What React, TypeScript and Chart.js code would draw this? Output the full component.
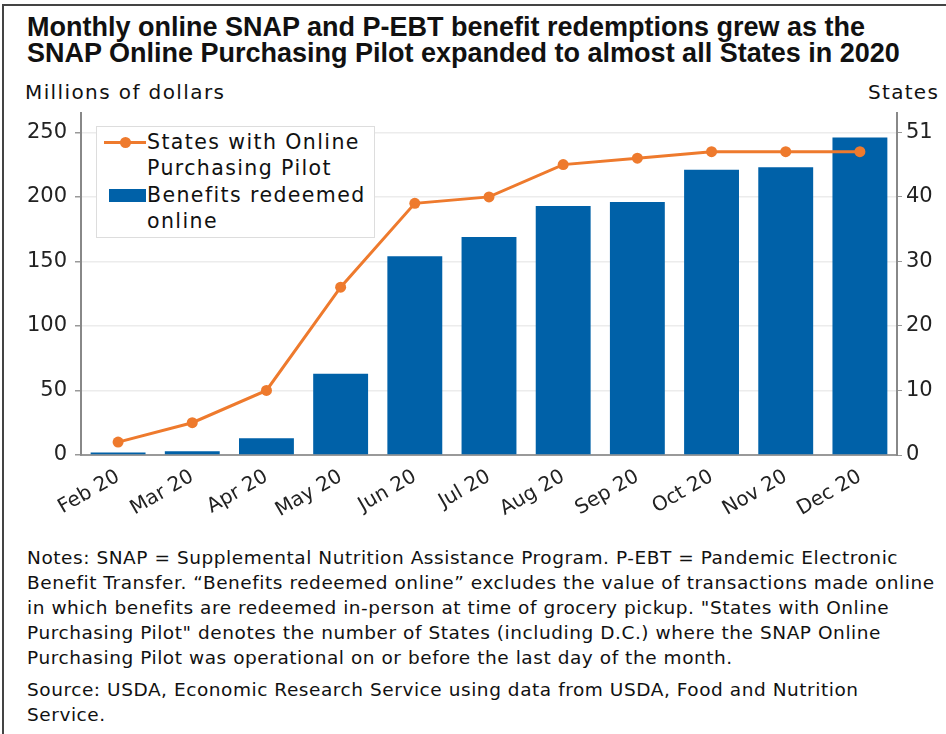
import React, { useEffect, useRef } from "react";
import { Chart, registerables } from "chart.js";

Chart.register(...registerables);

const months = ["Feb 20", "Mar 20", "Apr 20", "May 20", "Jun 20", "Jul 20", "Aug 20", "Sep 20", "Oct 20", "Nov 20", "Dec 20"];
const benefitsRedeemed = [2, 3, 13, 63, 154, 169, 193, 196, 221, 223, 246];
const statesWithPilot = [2, 5, 10, 26, 39, 40, 45, 46, 47, 47, 47];
const leftTicks = [0, 50, 100, 150, 200, 250];
const rightTicks = [0, 10, 20, 30, 40, 50];
const rightTickLabels = ["0", "10", "20", "30", "40", "51"];

const titleLines = [
  "Monthly online SNAP and P-EBT benefit redemptions grew as the",
  "SNAP Online Purchasing Pilot expanded to almost all States in 2020",
];
const noteLines = [
  "Notes: SNAP = Supplemental Nutrition Assistance Program. P-EBT = Pandemic Electronic",
  "Benefit Transfer. \u201cBenefits redeemed online\u201d excludes the value of transactions made online",
  "in which benefits are redeemed in-person at time of grocery pickup. \"States with Online",
  "Purchasing Pilot\" denotes the number of States (including D.C.) where the SNAP Online",
  "Purchasing Pilot was operational on or before the last day of the month.",
];
const sourceLines = [
  "Source: USDA, Economic Research Service using data from USDA, Food and Nutrition",
  "Service.",
];

const BAR = "#0061A8";
const LINE = "#EE7A2D";
const TITLE_FONT = "'Liberation Sans', Arial, sans-serif";
const FONT = "'DejaVu Sans', Verdana, sans-serif";

export default function App() {
  const ref = useRef<HTMLCanvasElement | null>(null);

  useEffect(() => {
    if (!ref.current) return;
    const noPad = (s: any) => {
      s.paddingTop = 0;
      s.paddingBottom = 0;
    };
    const chart = new Chart(ref.current, {
      data: {
        labels: months,
        datasets: [
          {
            type: "line",
            label: "States with Online Purchasing Pilot",
            data: statesWithPilot,
            yAxisID: "y2",
            borderColor: LINE,
            backgroundColor: LINE,
            borderWidth: 3,
            pointRadius: 5.5,
            pointBackgroundColor: LINE,
            pointBorderWidth: 0,
            tension: 0,
            order: 0,
          },
          {
            type: "bar",
            label: "Benefits redeemed online",
            data: benefitsRedeemed,
            yAxisID: "y",
            backgroundColor: BAR,
            barPercentage: 0.74,
            categoryPercentage: 1,
            order: 1,
          },
        ],
      },
      options: {
        animation: false,
        responsive: false,
        maintainAspectRatio: false,
        layout: { padding: { top: 13, left: 0, right: 0, bottom: 0 } },
        plugins: { legend: { display: false }, tooltip: { enabled: false } },
        scales: {
          x: {
            offset: true,
            grid: { display: false },
            border: { display: true, color: "#999", width: 2 },
            ticks: {
              color: "#222",
              font: { family: FONT, size: 20 },
              minRotation: 30,
              maxRotation: 30,
              padding: 2,
            },
            afterFit: (s: any) => {
              s.height = 90;
            },
          },
          y: {
            position: "left",
            min: 0,
            max: 265,
            afterBuildTicks: (s: any) => {
              s.ticks = leftTicks.map((v) => ({ value: v }));
            },
            grid: { color: "#ececec", tickColor: "#999", tickLength: 6, lineWidth: 1.5 },
            border: { color: "#888", width: 2 },
            ticks: { color: "#222", font: { family: FONT, size: 21 }, padding: 8 },
            afterFit: (s: any) => {
              s.width = 81;
              noPad(s);
            },
          },
          y2: {
            position: "right",
            min: 0,
            max: 53,
            afterBuildTicks: (s: any) => {
              s.ticks = rightTicks.map((v) => ({ value: v }));
            },
            grid: { drawOnChartArea: false, tickColor: "#999", tickLength: 5 },
            border: { color: "#888", width: 2 },
            ticks: {
              color: "#222",
              font: { family: FONT, size: 21 },
              padding: 4,
              callback: (v: any) => {
                const i = rightTicks.indexOf(Number(v));
                return i >= 0 ? rightTickLabels[i] : "";
              },
            },
            afterFit: (s: any) => {
              s.width = 49;
              noPad(s);
            },
          },
        },
      },
    } as any);
    return () => chart.destroy();
  }, []);

  return (
    <div style={{ position: "absolute", left: 0, top: 0, width: 946, height: 734, background: "#fff", overflow: "hidden", fontFamily: FONT, color: "#111" }}>
      <div style={{ position: "absolute", left: 2, top: 4, width: 960, height: 760, borderLeft: "2px solid #444", borderTop: "2px solid #444" }} />
      <div style={{ position: "absolute", left: 27, top: 14, fontFamily: TITLE_FONT, fontSize: 27, fontWeight: "bold", lineHeight: "26px", whiteSpace: "nowrap" }}>
        {titleLines.map((t, i) => (
          <div key={i}>{t}</div>
        ))}
      </div>
      <div style={{ position: "absolute", left: 25, top: 80, fontSize: 20, letterSpacing: 1.4, whiteSpace: "nowrap" }}>Millions of dollars</div>
      <div style={{ position: "absolute", left: 868, top: 80, fontSize: 20, letterSpacing: 1.3, whiteSpace: "nowrap" }}>States</div>
      <canvas ref={ref} width={946} height={445} style={{ position: "absolute", left: 0, top: 100, width: 946, height: 445 }} />
      <div style={{ position: "absolute", left: 96, top: 126, width: 277, height: 110, background: "#fff", border: "1px solid #ddd", fontSize: 20.5, letterSpacing: 1.4, lineHeight: "26px", color: "#111" }}>
        <div style={{ position: "absolute", left: 7, top: 14, width: 42, height: 3, background: LINE }} />
        <div style={{ position: "absolute", left: 23, top: 10, width: 11, height: 11, borderRadius: "50%", background: LINE }} />
        <div style={{ position: "absolute", left: 50, top: 2, whiteSpace: "nowrap" }}>
          States with Online
          <br />
          Purchasing Pilot
        </div>
        <div style={{ position: "absolute", left: 12, top: 62, width: 37, height: 13, background: BAR }} />
        <div style={{ position: "absolute", left: 50, top: 55, whiteSpace: "nowrap" }}>
          Benefits redeemed
          <br />
          online
        </div>
      </div>
      <div style={{ position: "absolute", left: 27, top: 545, fontSize: 18.5, letterSpacing: 0.55, lineHeight: "25px", whiteSpace: "nowrap" }}>
        {noteLines.map((t, i) => (
          <div key={i}>{t}</div>
        ))}
        <div style={{ height: 7 }} />
        {sourceLines.map((t, i) => (
          <div key={"s" + i}>{t}</div>
        ))}
      </div>
    </div>
  );
}
